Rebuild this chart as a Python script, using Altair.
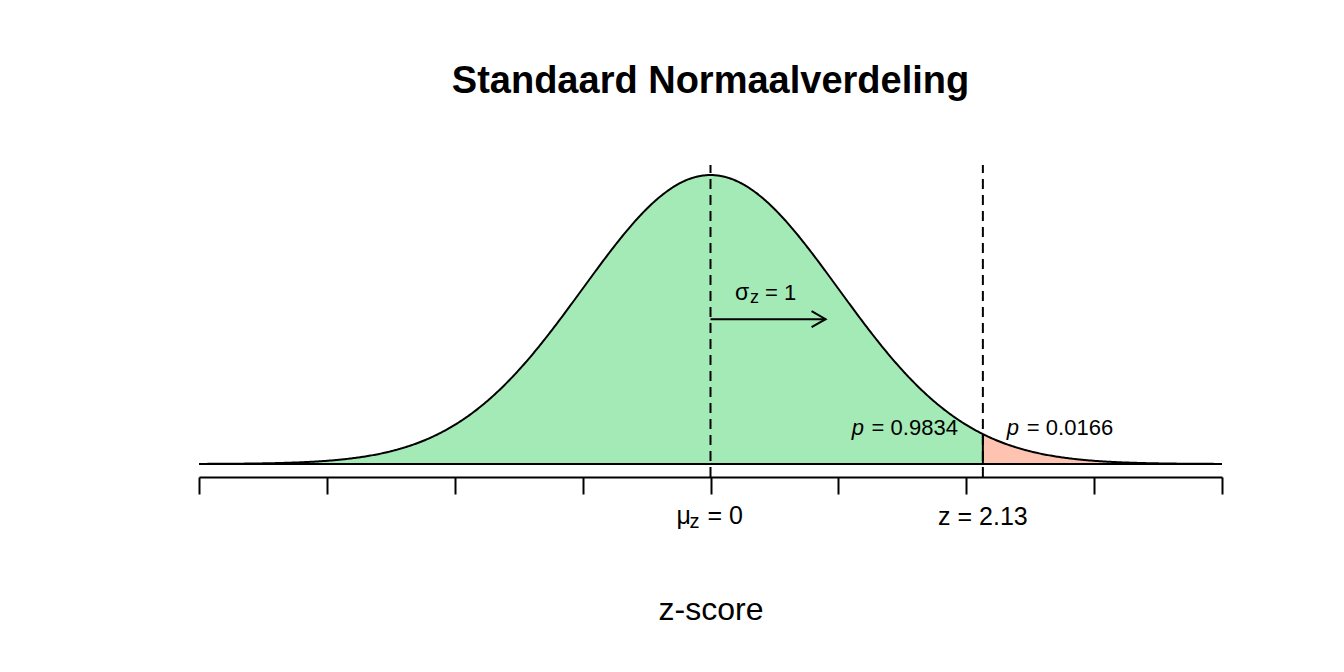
import altair as alt
import numpy as np
import pandas as pd

# ---- chart parameters / values ----
mu = 0.0
sigma = 1.0
z_obs = 2.13
p_left_label = "= 0.9834"
p_right_label = "= 0.0166"
x_domain = [-4, 4]
tick_values = [-4, -3, -2, -1, 0, 1, 2, 3, 4]
title_text = "Standaard Normaalverdeling"
x_title = "z-score"
arrow_start = 0.0
arrow_end = 0.9
arrow_y = 0.2
sigma_label_x = 0.45
sigma_label_y = 0.2264
p_label_y = 0.040
y_domain = [-0.01795, 0.4128]

GREEN = "#a4eab6"
SALMON = "#fec4b1"
FONT = "Liberation Sans"

# theoretical density of the standard normal distribution
grid = np.round(np.arange(x_domain[0], x_domain[1] + 1e-9, 0.01), 4)
grid = np.unique(np.append(grid, z_obs))
dens = np.exp(-0.5 * ((grid - mu) / sigma) ** 2) / (sigma * np.sqrt(2 * np.pi))
curve = pd.DataFrame({"z": grid, "d": dens})
left = curve[curve.z <= z_obs]
right = curve[curve.z >= z_obs]
d_obs = float(np.exp(-0.5 * z_obs ** 2) / np.sqrt(2 * np.pi))

xs = alt.Scale(domain=x_domain, nice=False, zero=False)
ys = alt.Scale(domain=y_domain, nice=False, zero=False)

x_axis = alt.Axis(
    values=tick_values, labels=False, grid=False, tickSize=17, tickWidth=2,
    tickColor="black", domainColor="black", domainWidth=2,
    title=x_title, titleFont=FONT, titleFontSize=32, titleFontWeight="normal",
    titleColor="black", titleBaseline="alphabetic", titleY=142,
)


def X(field="z"):
    return alt.X(f"{field}:Q", scale=xs, axis=x_axis, title=x_title)


def Y(field="d"):
    return alt.Y(f"{field}:Q", scale=ys, axis=None)


area_left = alt.Chart(left).mark_area(color=GREEN, opacity=1).encode(
    x=X(), y=Y(), y2=alt.datum(0))
area_right = alt.Chart(right).mark_area(color=SALMON, opacity=1).encode(
    x=X(), y=Y(), y2=alt.datum(0))

base_df = pd.DataFrame({"z": [x_domain[0]], "z2": [x_domain[1]], "d": [0.0]})
baseline = alt.Chart(base_df).mark_rule(color="black", strokeWidth=2).encode(
    x=X(), x2="z2:Q", y=Y())

line = alt.Chart(curve).mark_line(color="black", strokeWidth=2).encode(
    x=X(), y=Y())

edge_df = pd.DataFrame({"z": [z_obs], "d": [0.0], "d2": [d_obs]})
edge = alt.Chart(edge_df).mark_rule(color="black", strokeWidth=2).encode(
    x=X(), y=Y(), y2="d2:Q")

dash_df = pd.DataFrame({"z": [mu, z_obs], "d": [y_domain[0]] * 2, "d2": [y_domain[1]] * 2})
dashes = alt.Chart(dash_df).mark_rule(color="black", strokeWidth=2, strokeDash=[10, 6]).encode(
    x=X(), y=Y(), y2="d2:Q")

arrow_df = pd.DataFrame({"z": [arrow_start], "z2": [arrow_end], "d": [arrow_y]})
shaft = alt.Chart(arrow_df).mark_rule(color="black", strokeWidth=2).encode(
    x=X(), x2="z2:Q", y=Y())
head_df = pd.DataFrame({"z": [arrow_end], "d": [arrow_y]})
head = alt.Chart(head_df).mark_point(
    shape="M-1,-0.57L0,0L-1,0.57", size=784, filled=False, stroke="black",
    strokeWidth=2, opacity=1).encode(x=X(), y=Y())


def text_piece(xval, text, size, dx=0, dy=0, align="left", yval=None, ypix=None,
               style="normal", font=FONT):
    df = pd.DataFrame({"z": [xval], "t": [text], "d": [yval if yval is not None else 0.0]})
    enc = dict(x=X(), text="t:N")
    enc["y"] = Y() if ypix is None else alt.value(ypix)
    return alt.Chart(df).mark_text(
        font=font, fontSize=size, fontStyle=style, color="black", align=align,
        baseline="alphabetic", dx=dx, dy=dy).encode(**enc)


texts = [
    # sigma_z = 1
    text_piece(sigma_label_x, "σ", 23, dx=-33, yval=sigma_label_y),
    text_piece(sigma_label_x, "z", 18, dx=-18, dy=3, yval=sigma_label_y),
    text_piece(sigma_label_x, "= 1", 22, dx=-3, yval=sigma_label_y),
    # p labels
    text_piece(z_obs, "p", 22, dx=-131, yval=p_label_y, style="italic"),
    text_piece(z_obs, p_left_label, 22, dx=-25, align="right", yval=p_label_y),
    text_piece(z_obs, "p", 22, dx=24, yval=p_label_y, style="italic"),
    text_piece(z_obs, p_right_label, 22, dx=44, yval=p_label_y),
    # tick labels
    text_piece(mu, "μ", 25, dx=-34, ypix=359),
    text_piece(mu, "z", 20, dx=-21, dy=4, ypix=359),
    text_piece(mu, "= 0", 25, dx=-3, ypix=359),
    text_piece(z_obs, "z = 2.13", 25, align="center", ypix=360),
]

chart = alt.layer(
    area_left, area_right, baseline, line, edge, dashes, shaft, head, *texts
).properties(
    width=1023, height=312,
    padding={"left": 199, "top": 165, "right": 122, "bottom": 195},
    autosize=alt.AutoSizeParams(type="none"),
    background="white",
    title=alt.TitleParams(
        text=title_text, font=FONT, fontSize=38, fontWeight="bold", color="black",
        anchor="middle", baseline="alphabetic", offset=33),
).configure_view(stroke=None)

chart.save("out.html", embed_options={"renderer": "svg", "actions": False})
